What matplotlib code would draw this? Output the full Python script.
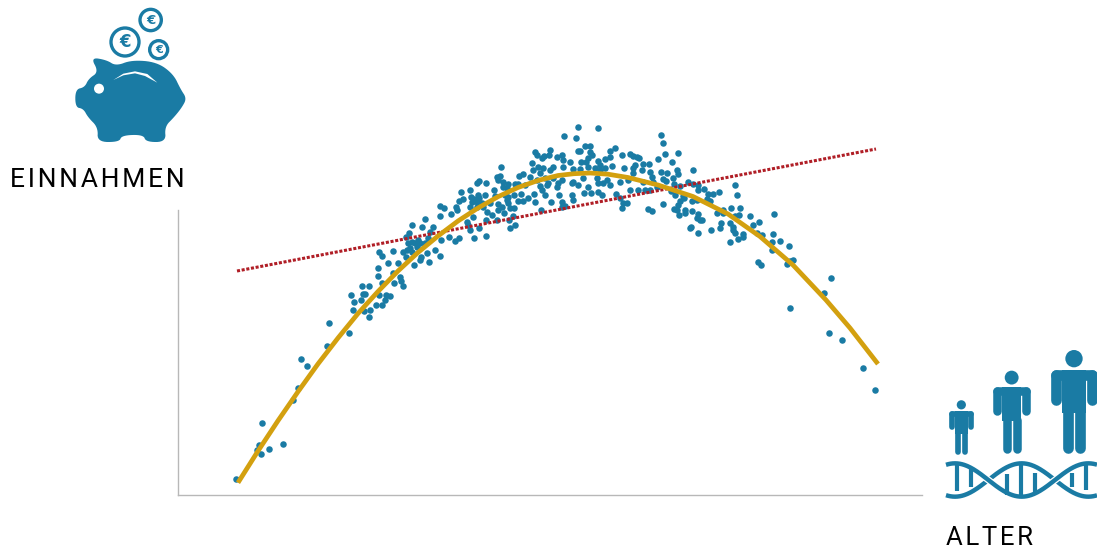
#!/usr/bin/env python3
import numpy as np
import matplotlib
matplotlib.use('Agg')
import matplotlib.pyplot as plt
from matplotlib.patches import Circle, Polygon, Rectangle

teal = '#1a7ba4'
gold = '#d3a00f'
red = '#b01e26'
grey = '#b8b8b8'

# scatter (axis units are arbitrary, no ticks in the chart)
age = [57.7, 79, 81.3, 83, 90.7, 105, 84, 114.7, 120.3, 123, 128.7, 149, 150.7, 171, 175.3, 175.7, 173.3, 182.7,
       185, 187.3, 183.7, 190.7, 190.7, 186.3, 192.3, 197.7, 204.3, 207.3, 208, 212, 201.3, 204, 216, 223.3, 225.3,
       323.3, 341, 318.7, 322, 320.3, 325.3, 329.7, 325.3, 329.3, 337.3, 340.3, 298.7, 301, 307.7, 283, 291.7, 315.7,
       306.7, 299.7, 293, 296, 293.7, 298.7, 301.3, 285.3, 281.3, 278, 278.7, 273, 262, 265.7, 262.3, 234.3, 247.3,
       244.3, 231.3, 228, 252, 255.3, 262.7, 257.3, 262.3, 249.3, 251.3, 242, 242.7, 235.7, 227.7, 225.3, 215, 200.7,
       204, 210, 200.3, 200.3, 220.3, 222, 214.7, 230.3, 233.7, 237, 240.3, 242, 232, 228.7, 233.7, 238.7, 247, 250.3,
       270.7, 276.7, 280.7, 295.7, 308, 292.3, 301, 288.7, 290.3, 295.3, 307.7, 319.3, 331.3, 332, 337, 334.7, 326.3,
       313.7, 309.3, 320.3, 323.7, 320.3, 330.3, 336, 332, 328.7, 336, 340.3, 327, 330.3, 305.3, 312, 292, 298.7,
       303.7, 317,
       399.7, 420.3, 386.3, 398.3, 406.7, 412.3, 400, 401.7, 372, 357, 358.7, 366, 363.7, 353.7, 383.7, 378.7, 371.3,
       412, 413.7, 410.3, 408, 432, 437, 432, 427, 420.3, 422, 403.3, 392, 385.3, 443.7, 452, 455.3, 459.3, 461.3,
       480.3, 465.3, 471.3, 457, 455.3, 445.7, 433.7, 427, 422, 417, 410.3, 402, 395.3, 385.3, 375.3, 372, 365.3,
       360.3, 355.3, 344.7, 352, 362, 375.3, 383.7, 395.3, 405.3, 418.7, 428.7, 442, 450.3, 455.3, 463.7, 472, 473.7,
       475.3, 465.3, 460.3, 452, 437.7, 420.3, 423.7, 413, 406, 410.3, 393.7, 395.3, 381.3, 373.3, 367, 363.7, 368.7,
       378.7, 362, 356, 356.7, 350.3, 344.7, 343, 347, 383.7, 387, 383.7, 363, 442, 445.3, 448.7, 443.7, 469.7, 473.7,
       478.7, 472, 467, 432, 425.3, 420.3, 393.7, 400.3, 367, 358.7, 370.3, 380.3,
       483, 485, 487, 499.7, 493.7, 514.7, 499.3, 500.3, 489.3, 483, 495.3, 485.3, 488, 496, 502, 510.3, 515.3, 520.3,
       520.3, 526.3, 530.3, 535.3, 541, 557, 558.7, 492.7, 497, 504.7, 506, 502, 513.7, 519.3, 528.7, 532, 485, 500.3,
       496, 498.7, 507.3, 507.3, 501.3, 514, 520.3, 519.3, 522, 524.3, 513, 512, 519.7, 533, 539.3, 545.3, 545.3, 553,
       562, 560.7, 557, 572, 596, 581, 574.7, 552, 542.7, 542, 554.7, 555.3, 557, 564.7, 565.3, 560, 552.3, 578.7,
       583.7, 595, 594, 602.3, 611, 594, 614.7, 612, 609, 580, 582.7, 653, 646, 612.3, 650.7, 663.7, 684.7, 697.3]
income = [16.3, 45.3, 50, 41, 46, 51, 72, 95, 107.3, 136, 129, 149, 172, 162, 185, 193, 200, 195,
          201, 201, 209, 209, 178, 184, 185, 190, 190, 195, 200, 199, 200, 212, 212, 214, 209,
          328, 319.3, 318.3, 319, 315, 313.3, 311, 307.7, 306.7, 310.7, 311, 312.3, 314, 312, 303, 305.3, 305.3,
          300, 300, 298.3, 295.7, 293.3, 293.3, 296.7, 296, 294, 288.3, 285, 281.3, 289, 287, 279, 270, 276,
          268, 262.3, 258.3, 263.3, 268.3, 255, 245, 239, 242, 233, 235, 238.3, 230, 238, 243.3, 244.3, 243,
          239, 232, 227, 219, 232, 217.7, 222.3, 251.7, 253.3, 251.7, 255, 251.7, 246.7, 245, 243.3, 248.3, 251.7, 256.7,
          258, 254, 257, 257, 259, 265, 267, 273.3, 270, 277.7, 275, 275, 275, 267, 270, 279, 281.7,
          280, 283.3, 285, 288.3, 291, 291.7, 287.3, 287.3, 295, 300, 294.3, 300, 298.3, 288.3, 291.7, 288.3, 288.3,
          291.7, 299,
          368, 367, 359, 357, 349, 349, 344, 344, 345, 343.3, 340, 339.3, 336.7, 332.3, 340, 338.3, 340,
          343.3, 340, 336.7, 333.3, 344, 347, 338.3, 335.7, 334, 330, 333, 333, 335, 340, 340.7, 339.3, 338, 337,
          336, 331, 331, 330, 326.7, 327, 329, 326.7, 325, 326.7, 328.3, 325.7, 325.7, 328.3, 328.3, 325, 326.7,
          328.3, 325, 321, 318.3, 321.7, 316.7, 315, 313.3, 316.7, 316.7, 315, 313.3, 315, 321.7, 325, 323.3, 318.3,
          313.3, 313.3, 305, 305, 301, 302.7, 300, 302.3, 302.3, 308.3, 300, 295, 300, 293, 300, 305, 310,
          308.3, 309.3, 301, 293.3, 297.3, 294.3, 301.3, 310, 292.7, 289.3, 288.3, 285, 296.7, 291.7, 291.7, 287.3, 286.3, 284,
          308.3, 305, 305, 310, 311.7, 311.7, 311.7, 310, 316.7, 315, 311.7, 311.7,
          360, 352, 341, 342, 333, 325, 325, 321, 322, 323, 317, 315.7, 314, 310.7, 309, 313, 311, 310,
          305, 306, 301, 301, 303, 310, 300, 304, 300, 299, 297, 294.3, 294.3, 295, 296.3, 294, 291, 289.7,
          286, 285, 285, 282, 280, 284, 281, 277, 275, 275, 267.7, 267, 262, 265, 282, 285, 281.7, 287,
          287, 280, 279, 279, 281, 273, 270, 272, 272, 267, 268.3, 265, 262, 261, 258, 256, 253, 261.7,
          260.3, 261, 253, 254, 249, 245, 235, 234, 231, 233, 230, 217, 201.7, 187, 162, 155, 127, 105]

# quadratic trend, traced
curve_age = [60, 80, 100, 120, 140, 160, 180, 200, 220, 240, 260, 280, 300, 320, 340, 360, 380, 396, 412,
             430, 450, 480, 515, 550, 582, 615, 648, 672, 700]
curve_income = [12.3, 44, 74.3, 103.3, 131.1, 157, 181.5, 203.5, 224, 242.5, 259, 274, 287, 298.3, 307.5, 314.5,
                319.5, 321.3, 322, 320.8, 317.5, 310, 298.5, 281, 258.5, 230, 195, 167, 131]

# straight trend, traced
line_age = [59, 698]
line_income = [224, 346]

x_label = '\u200a'.join('ALTER')
y_label = '\u200a'.join('EINNAHMEN')

fig = plt.figure(figsize=(10.97, 5.49), dpi=100)
ax = fig.add_axes([178 / 1097, 1 - 495 / 549, 744 / 1097, 285 / 549])
ax.set_xlim(0, 744)
ax.set_ylim(0, 285)
ax.set_xticks([])
ax.set_yticks([])
for side in ['top', 'right']:
    ax.spines[side].set_visible(False)
for side in ['left', 'bottom']:
    ax.spines[side].set_color(grey)
    ax.spines[side].set_linewidth(1.0)

ax.scatter(age, income, s=22, color=teal, linewidths=0, clip_on=False, zorder=2)
ax.plot(line_age, line_income, color=red, lw=2.2, ls=(0, (1.0, 0.55)), clip_on=False, zorder=3)
ax.plot(curve_age, curve_income, color=gold, lw=3.4, clip_on=False, zorder=4, solid_joinstyle='round',
        solid_capstyle='butt')

# icons live on an overlay in pixel coordinates
ov = fig.add_axes([0, 0, 1, 1])
ov.set_xlim(0, 1097)
ov.set_ylim(549, 0)
ov.axis('off')
ov.patch.set_visible(False)


def smooth(pts, n=3):
    pts = np.array(pts, dtype=float)
    for _ in range(n):
        nxt = np.roll(pts, -1, axis=0)
        pts = np.column_stack([0.75 * pts + 0.25 * nxt, 0.25 * pts + 0.75 * nxt]).reshape(-1, 2)
    return pts


def pig_xy(pts):
    return np.array(pts, dtype=float) / 3 + [60, 0]


def dna_xy(x, y):
    return 930 + np.asarray(x) / 3, 340 + np.asarray(y) / 3


# piggy bank
body = [(92, 172), (140, 180), (168, 198), (215, 180), (290, 186), (340, 222), (362, 268), (380, 295), (366, 322),
        (342, 352), (314, 380), (318, 426), (258, 426), (250, 404), (185, 406), (178, 426), (112, 426), (114, 382),
        (84, 352), (70, 326), (46, 322), (46, 268), (74, 262), (86, 236), (116, 216)]
ov.add_patch(Polygon(pig_xy(smooth(body, 3)), closed=True, fc=teal, ec='none'))
ov.add_patch(Circle(pig_xy([(117, 266)])[0], 15 / 3, fc='white', ec='none'))
slot = [(160, 240), (190, 221), (225, 214), (262, 222), (292, 248), (255, 228), (225, 220), (190, 226)]
ov.add_patch(Polygon(pig_xy(slot), closed=True, fc='white', ec='none'))
for cx, cy, r, fs in [(195, 126, 42, 12), (272, 60, 32, 9.5), (296, 149, 27, 8)]:
    c = pig_xy([(cx, cy)])[0]
    ov.add_patch(Circle(c, r / 3, fc='none', ec=teal, lw=2.4))
    ov.text(c[0], c[1], '€', color=teal, fontsize=fs, fontweight='bold', ha='center', va='center',
            family='DejaVu Sans')


# people
def person(cx, bottom, s):
    def X(v):
        return 930 + (cx + v * s) / 3

    def Y(v):
        return 340 + (bottom + v * s) / 3

    lw_limb = 32 * s / 3 * 0.72
    ov.add_patch(Circle((X(0), Y(-284)), 26 * s / 3, fc=teal, ec='none'))
    ov.plot([X(-54), X(54)], [Y(-234), Y(-234)], color=teal, lw=lw_limb, solid_capstyle='round')
    ov.add_patch(Rectangle((X(-35), Y(-250)), 70 * s / 3, 130 * s / 3, fc=teal, ec='none'))
    for side in [-1, 1]:
        ov.plot([X(side * 54)] * 2, [Y(-234), Y(-160)], color=teal, lw=lw_limb, solid_capstyle='round')
        ov.plot([X(side * 19)] * 2, [Y(-125), Y(-16)], color=teal, lw=lw_limb, solid_capstyle='round')


person(432, 340, 1.0)
person(245, 340, 0.8)
person(94, 345, 0.53)

# dna strands
xs = np.linspace(48, 501, 200)
top = 420 - 50 * np.sin((xs - 175) * np.pi / 200)
bot = 420 + 50 * np.sin((xs - 175) * np.pi / 200)
ov.plot(*dna_xy(xs, top), color=teal, lw=3.2, solid_capstyle='butt')
ov.plot(*dna_xy(xs, bot), color='white', lw=5, solid_capstyle='butt')
ov.plot(*dna_xy(xs, bot), color=teal, lw=3.2, solid_capstyle='butt')
for x_r, t0, t1 in [(82, 375, 452), (122, 380, 440), (232, 402, 465), (272, 372, 470), (315, 398, 460),
                    (425, 398, 440), (467, 375, 450)]:
    px, py0 = dna_xy(x_r, t0)
    _, py1 = dna_xy(x_r, t1)
    ov.plot([px, px], [py0, py1], color=teal, lw=3.0, solid_capstyle='butt')

font = ['Roboto', 'DejaVu Sans']
ov.text(10, 187, y_label, fontsize=19, family=font, color='black', ha='left', va='baseline')
ov.text(946, 545, x_label, fontsize=18.5, family=font, color='black', ha='left', va='baseline')

fig.savefig('out.png', dpi=100)
